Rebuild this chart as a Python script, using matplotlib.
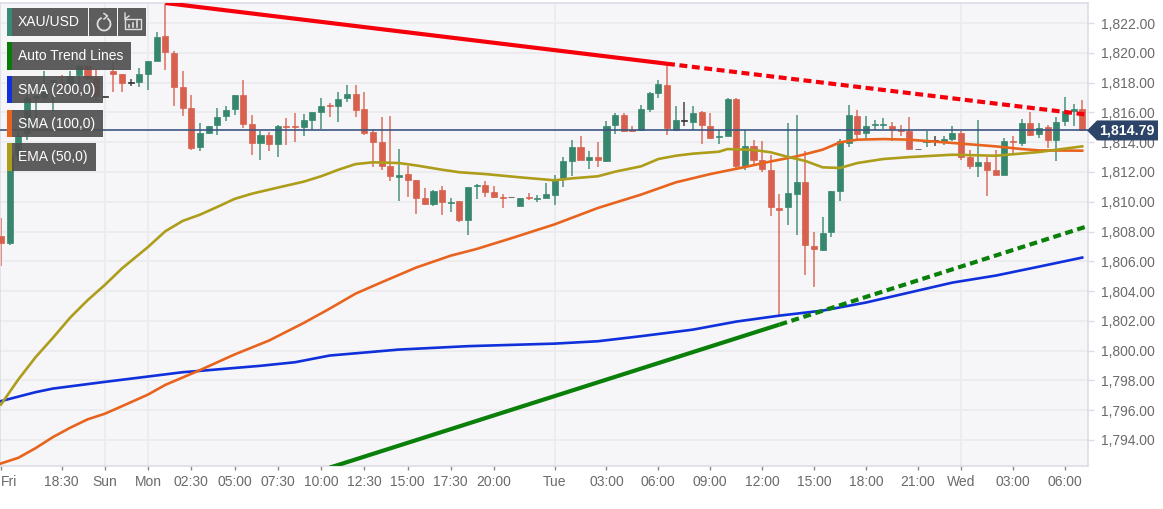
import matplotlib
matplotlib.use("Agg")
import matplotlib.pyplot as plt
from matplotlib.patches import Rectangle, Polygon, Arc

plt.rcParams['font.family'] = ['Liberation Sans', 'DejaVu Sans']

W, H = 1163, 509
opens = [1807.72,1807.23,1813.15,1814.6,1816.95,1817.05,1818.05,1818.0,1817.85,1818.5,1819.1,1818.3,1817.05,1818.75,1818.6,1818.0,1818.05,1818.6,1819.45,1821.1,
 1820.0,1817.7,1816.3,1813.65,1814.6,1815.15,1815.75,1816.2,1817.15,1815.25,1813.95,1814.45,1813.9,1815.12,1815.12,1815.02,1815.47,1816.0,1816.5,1816.45,
 1816.96,1817.23,1816.22,1814.68,1814.0,1812.42,1811.65,1811.86,1811.44,1810.25,1809.87,1810.77,1809.94,1810.03,1808.76,1811.06,1811.15,1810.63,1810.34,1810.3,
 1809.7,1810.33,1810.2,1810.23,1810.47,1811.6,1812.71,1813.67,1812.82,1813.02,1812.76,1815.13,1815.84,1814.8,1814.8,1816.25,1817.3,1817.86,1814.84,1815.44,
 1815.37,1816.02,1815.06,1814.35,1814.43,1816.92,1812.42,1813.76,1812.78,1812.15,1809.58,1809.62,1810.52,1811.3,1807.05,1806.78,1808.0,1810.7,1813.94,1815.78,
 1814.6,1815.17,1815.15,1815.1,1814.84,1814.72,1813.52,1814.03,1814.1,1814.08,1814.21,1814.61,1813.0,1812.38,1812.64,1812.15,1811.82,1814.1,1813.94,1815.28,
 1814.57,1815.0,1814.17,1815.4,1816.07,1816.22]
closes = [1807.23,1813.15,1814.4,1816.96,1817.1,1817.4,1818.15,1817.8,1818.45,1819.1,1818.3,1817.07,1817.05,1818.6,1818.0,1818.0,1818.55,1819.45,1821.05,1820.03,
 1817.7,1816.3,1813.6,1814.6,1815.1,1815.7,1816.15,1817.2,1815.25,1813.95,1814.45,1813.9,1815.1,1815.02,1815.02,1815.47,1816.0,1816.45,1816.4,1816.92,
 1817.23,1816.14,1814.62,1814.0,1812.38,1811.7,1811.8,1811.48,1810.25,1809.87,1810.75,1809.98,1810.0,1808.76,1811.0,1811.13,1810.66,1810.34,1810.28,1810.3,
 1810.25,1810.23,1810.28,1810.52,1811.48,1812.71,1813.67,1812.82,1813.02,1812.8,1815.1,1815.84,1814.77,1814.75,1816.22,1817.3,1817.92,1814.95,1815.46,1815.44,
 1815.96,1815.13,1814.3,1814.43,1816.92,1812.42,1813.76,1812.82,1812.2,1809.62,1809.47,1810.59,1811.32,1807.07,1806.85,1807.9,1810.7,1814.05,1815.8,1814.55,
 1815.1,1815.24,1815.22,1814.9,1814.77,1813.56,1813.52,1814.1,1814.1,1814.23,1814.61,1812.98,1812.42,1812.64,1812.1,1811.82,1814.05,1814.0,1815.28,1814.5,
 1814.95,1814.17,1815.35,1816.07,1816.22,1814.79]
highs = [1808.9,1813.15,1814.7,1817.2,1817.2,1818.75,1818.2,1818.5,1818.75,1819.2,1819.2,1818.9,1817.05,1819.4,1818.6,1818.25,1819.0,1819.45,1821.4,1823.35,
 1820.1,1818.75,1817.2,1815.3,1815.1,1816.3,1816.45,1817.2,1818.2,1815.8,1814.75,1814.7,1815.15,1815.6,1815.95,1815.9,1816.05,1816.95,1816.63,1817.35,
 1817.86,1817.86,1817.35,1814.9,1815.7,1815.78,1813.57,1812.38,1811.44,1810.93,1810.82,1811.04,1810.25,1810.03,1811.0,1811.2,1811.37,1811.04,1810.54,1810.3,
 1810.25,1810.6,1810.48,1811.26,1811.82,1813.0,1814.17,1814.39,1813.43,1814.0,1815.44,1815.96,1815.96,1815.06,1816.5,1817.4,1818.15,1819.27,1816.45,1816.7,
 1816.45,1816.07,1815.96,1814.84,1817.0,1817.0,1814.84,1814.17,1814.1,1813.16,1810.54,1815.28,1815.84,1813.38,1807.97,1808.98,1810.7,1814.2,1816.5,1816.18,
 1815.78,1815.5,1815.62,1815.35,1815.17,1815.69,1813.52,1814.72,1814.39,1814.39,1815.1,1814.72,1813.45,1815.5,1813.0,1813.5,1814.28,1814.39,1815.57,1816.02,
 1815.28,1815.17,1815.66,1817.03,1816.58,1816.85]
lows = [1805.66,1807.1,1812.6,1814.15,1815.3,1816.85,1816.05,1817.1,1817.1,1817.7,1818.2,1816.75,1817.05,1817.35,1817.35,1817.75,1817.7,1817.5,1819.45,1818.85,
 1816.4,1815.75,1813.45,1813.4,1814.55,1814.5,1815.4,1815.85,1814.95,1813.15,1812.8,1813.4,1813.0,1813.8,1813.98,1814.44,1814.85,1814.9,1815.67,1815.33,
 1816.7,1815.67,1814.5,1812.33,1812.15,1811.37,1810.03,1810.33,1809.2,1809.8,1809.74,1809.13,1809.29,1808.62,1807.8,1810.2,1810.33,1810.26,1809.58,1810.3,
 1809.7,1810.15,1809.98,1810.23,1809.8,1811.0,1811.75,1812.8,1812.22,1812.33,1812.7,1814.57,1814.7,1814.7,1814.75,1816.0,1817.0,1814.5,1814.8,1815.06,
 1814.8,1813.9,1814.2,1813.9,1814.43,1812.26,1812.15,1812.37,1811.97,1809.06,1802.3,1808.46,1807.8,1805.1,1804.26,1806.7,1807.6,1810.03,1813.65,1814.2,
 1814.2,1814.8,1814.9,1814.1,1814.4,1813.56,1813.52,1813.65,1813.76,1813.83,1814.1,1812.82,1812.2,1811.66,1810.4,1811.77,1811.82,1813.23,1813.72,1814.43,
 1814.28,1813.6,1812.76,1815.06,1815.06,1814.72]

sma200_idx = [0,4,6,12,17,21,23,30,34,38,46,54,64,69,74,80,85,90,95,100,105,110,115,120,125]
sma200 = [1796.61,1797.21,1797.45,1797.9,1798.26,1798.55,1798.64,1798.98,1799.22,1799.67,1800.07,1800.3,1800.47,1800.63,1800.97,1801.41,1801.95,1802.35,1802.69,1803.23,1803.9,1804.57,1805.04,1805.64,1806.25]
sma100_idx = [0,2,4,6,8,10,12,14,17,19,23,27,31,35,38,41,44,48,52,55,59,64,69,74,78,82,86,89,92,95,97,99,102,105,110,115,118,120,125]
sma100 = [1792.42,1792.8,1793.45,1794.19,1794.82,1795.38,1795.76,1796.27,1797.05,1797.7,1798.69,1799.74,1800.68,1801.86,1802.82,1803.83,1804.59,1805.58,1806.38,1806.83,1807.55,1808.48,1809.58,1810.48,1811.3,1811.86,1812.33,1812.71,1813.05,1813.5,1813.99,1814.17,1814.21,1814.17,1813.95,1813.72,1813.54,1813.45,1813.43]
ema50_idx = [0,2,4,6,8,10,12,14,17,19,21,23,25,27,29,32,35,37,39,41,43,46,48,51,53,56,60,64,66,69,71,74,76,78,80,83,84,87,89,91,93,95,97,99,102,105,110,115,120,125]
ema50 = [1796.38,1798.06,1799.56,1800.86,1802.22,1803.38,1804.41,1805.53,1806.96,1808.02,1808.71,1809.13,1809.65,1810.19,1810.54,1810.95,1811.35,1811.71,1812.15,1812.53,1812.65,1812.6,1812.44,1812.15,1811.98,1811.86,1811.64,1811.44,1811.57,1811.71,1812.02,1812.38,1812.87,1813.09,1813.23,1813.36,1813.54,1813.48,1813.32,1813.01,1812.74,1812.31,1812.27,1812.6,1812.87,1813.0,1813.16,1813.09,1813.34,1813.72]

red_solid_idx, red_solid_val = [19, 77], [1823.35, 1819.27]
red_dash_idx, red_dash_val = [77, 126], [1819.27, 1815.82]
green_solid_idx, green_solid_val = [38, 90], [1792.14, 1801.75]
green_dash_idx, green_dash_val = [90, 126], [1801.75, 1808.43]

last_price = closes[-1]
y_ticks = [1794,1796,1798,1800,1802,1804,1806,1808,1810,1812,1814,1816,1818,1820,1822]
x_tick_idx = [0,7,12,17,22,27,32,37,42,47,52,57,64,70,76,82,88,94,100,106,111,117,123]
x_tick_labels = ['Fri','18:30','Sun','Mon','02:30','05:00','07:30','10:00','12:30','15:00','17:30','20:00','Tue','03:00','06:00','09:00','12:00','15:00','18:00','21:00','Wed','03:00','06:00']
day_idx = [12, 17, 64, 111]
legend_names = ['XAU/USD', 'Auto Trend Lines', 'SMA (200,0)', 'SMA (100,0)', 'EMA (50,0)']

UP, DOWN, DOJI = '#37876f', '#d8604e', '#333333'
C200, C100, C50 = '#1030dc', '#e8641e', '#ad9d1a'
GRID, BORDER, TXT = '#ebebee', '#dcdde8', '#6a6a6a'

fig = plt.figure(figsize=(W/100, H/100), dpi=100, facecolor='white')
L, R, T, B = 0, 1088, 3, 466
ax = fig.add_axes([L/W, 1-B/H, (R-L)/W, (B-T)/H], facecolor='#f6f6f8')
ax.set_xlim(-0.1156, 125.67)
ax.set_ylim(1792.25, 1823.35)

ax.set_yticks(y_ticks)
ax.set_yticklabels([f'{v:,.2f}' for v in y_ticks])
ax.yaxis.tick_right()
ax.set_xticks(x_tick_idx)
ax.set_xticklabels(x_tick_labels)
ax.tick_params(axis='y', length=4, width=1, color=BORDER, labelcolor=TXT, labelsize=10, pad=5.5)
ax.tick_params(axis='x', length=3, width=1, color='#888888', labelcolor=TXT, labelsize=10, pad=3.5)
ax.get_xticklabels()[0].set_ha('left')
ax.yaxis.grid(True, color=GRID, lw=1.2, zorder=0)
ax.set_axisbelow(True)
for d in day_idx:
    ax.axvline(d, color=GRID, lw=1.2, zorder=0)
for s in ax.spines.values():
    s.set_color(BORDER)
    s.set_linewidth(1.2)

n = len(opens)
for i in range(n):
    o, c, h, l = opens[i], closes[i], highs[i], lows[i]
    col = DOJI if o == c else (UP if c > o else DOWN)
    ax.vlines(i, l, h, color=col, lw=1.1, zorder=2, alpha=0.9)
    bottom = min(o, c)
    ax.bar(i, max(abs(c-o), 0.02), bottom=bottom, width=0.70, color=col,
           edgecolor=col, linewidth=0.5, zorder=3)

ax.plot(sma200_idx, sma200, color=C200, lw=1.9, zorder=4)
ax.plot(sma100_idx, sma100, color=C100, lw=1.9, zorder=4)
ax.plot(ema50_idx, ema50, color=C50, lw=1.9, zorder=4)

ax.plot(red_solid_idx, red_solid_val, color='#f5000a', lw=3, solid_capstyle='butt', zorder=5)
ax.plot(red_dash_idx, red_dash_val, color='#f5000a', lw=3, dashes=(1.9, 1.1), dash_capstyle='butt', zorder=5)
ax.plot(green_solid_idx, green_solid_val, color='#0a800a', lw=3, solid_capstyle='butt', zorder=5)
ax.plot(green_dash_idx, green_dash_val, color='#0a800a', lw=3, dashes=(1.9, 1.1), dash_capstyle='butt', zorder=5)
ax.axhline(last_price, color='#3b5680', lw=1.2, zorder=6)

# Interface overlay in pixel coordinates
ui = fig.add_axes([0, 0, 1, 1], facecolor='none')
ui.set_xlim(0, W)
ui.set_ylim(H, 0)
ui.axis('off')

BOX = '#505050'
def tag(x0, x1, y0, y1, strip, label):
    ui.add_patch(Rectangle((x0, y0), x1-x0, y1-y0, color=BOX, alpha=0.92, lw=0))
    ui.add_patch(Rectangle((x0, y0), 4.5, y1-y0, color=strip, lw=0))
    ui.text(18, (y0+y1)/2, label, color='white', fontsize=10, va='center', ha='left')

tag(7, 88, 8, 36, '#3a8a78', legend_names[0])
tag(7, 131, 42, 70, '#0a7a0a', legend_names[1])
tag(7, 103, 76, 103, C200, legend_names[2])
tag(7, 103, 110, 137, C100, legend_names[3])
tag(7, 96, 143, 171, C50, legend_names[4])

ui.add_patch(Rectangle((89, 8), 28, 28, color=BOX, alpha=0.92, lw=0))
ui.add_patch(Rectangle((118, 8), 28, 28, color=BOX, alpha=0.92, lw=0))
ICON = '#dddddd'
ui.add_patch(Arc((104, 24), 13, 13, theta1=-60, theta2=250, color=ICON, lw=1.3))
ui.plot([104, 107.5, 104], [13.5, 16, 19], color=ICON, lw=1.1)
ui.plot([125, 141, 141, 125, 125], [19, 19, 29, 29, 19], color=ICON, lw=1)
for xb, yb in [(129, 25), (133, 23), (137, 21)]:
    ui.plot([xb, xb], [yb, 27], color=ICON, lw=1.2)
ui.plot([125, 125, 129], [13, 19, 16], color=ICON, lw=1)

# Last-price tag, placed from the last close
py = H - ax.transData.transform((0, last_price))[1]
ui.add_patch(Polygon([(1087, py), (1097, py-10), (1158, py-10), (1158, py+10), (1097, py+10)],
                     closed=True, color='#2b4468', lw=0))
ui.text(1127, py, f'{last_price:,.2f}', color='white', fontsize=10.2, fontweight='bold', ha='center', va='center')

fig.savefig('out.png', dpi=100)
